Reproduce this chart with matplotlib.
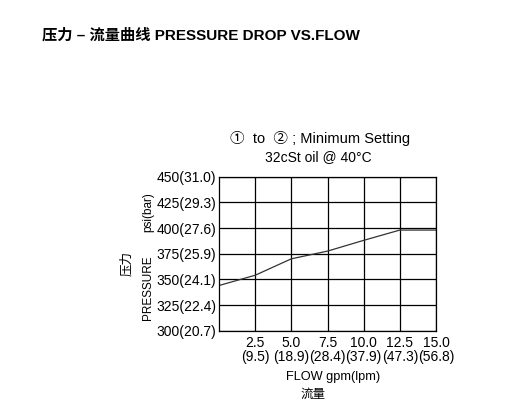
import matplotlib
matplotlib.use('Agg')
import matplotlib.pyplot as plt

plt.rcParams['font.family'] = ['Liberation Sans', 'Noto Sans CJK SC', 'DejaVu Sans']

# data
flow_gpm = [0, 2.5, 5.0, 7.5, 10.0, 12.5, 15.0]
pressure_psi = [344, 354, 370, 377.5, 388, 398, 398]

x_ticks = [2.5, 5.0, 7.5, 10.0, 12.5, 15.0]
x_labels = ['2.5\n(9.5)', '5.0\n(18.9)', '7.5\n(28.4)', '10.0\n(37.9)', '12.5\n(47.3)', '15.0\n(56.8)']
y_ticks = [300, 325, 350, 375, 400, 425, 450]
y_labels = ['300(20.7)', '325(22.4)', '350(24.1)', '375(25.9)', '400(27.6)', '425(29.3)', '450(31.0)']

fig = plt.figure(figsize=(5.2, 4.17), dpi=100)
ax = fig.add_axes([0.4212, 0.207, 0.4173, 0.3693])

ax.plot(flow_gpm, pressure_psi, color='#333333', lw=0.9)
ax.set_xlim(0, 15)
ax.set_ylim(300, 450)
ax.set_xticks(x_ticks)
ax.set_xticklabels(x_labels, fontsize=10, linespacing=1.0)
ax.set_yticks(y_ticks)
ax.set_yticklabels(y_labels, fontsize=10)
ax.tick_params(axis='x', length=0, pad=4)
ax.tick_params(axis='y', length=0, pad=2)
ax.grid(True, color='black', lw=0.9)
for s in ax.spines.values():
    s.set_linewidth(0.9)

# titles
fig.text(42 / 520, 1 - 35 / 417, '压力 – 流量曲线 PRESSURE DROP VS.FLOW', fontsize=11,
         fontweight='bold', va='center', ha='left')
fig.text(320 / 520, 1 - 138 / 417, '①  to  ② ; Minimum Setting', fontsize=10.5,
         ha='center', va='center')
fig.text(318 / 520, 1 - 157 / 417, '32cSt oil @ 40°C', fontsize=10,
         ha='center', va='center')

# axis labels
fig.text(148 / 520, 1 - 288 / 417, 'PRESSURE', fontsize=8.5, rotation=90,
         ha='center', va='center')
fig.text(148 / 520, 1 - 212 / 417, 'psi(bar)', fontsize=8.5, rotation=90,
         ha='center', va='center')
fig.text(127 / 520, 1 - 263 / 417, '压力', fontsize=9, rotation=90,
         ha='center', va='center')
fig.text(333 / 520, 1 - 377 / 417, 'FLOW gpm(lpm)', fontsize=9.2, ha='center', va='center')
fig.text(313 / 520, 1 - 395 / 417, '流量', fontsize=9, ha='center', va='center')

fig.savefig('out.png', dpi=100)
